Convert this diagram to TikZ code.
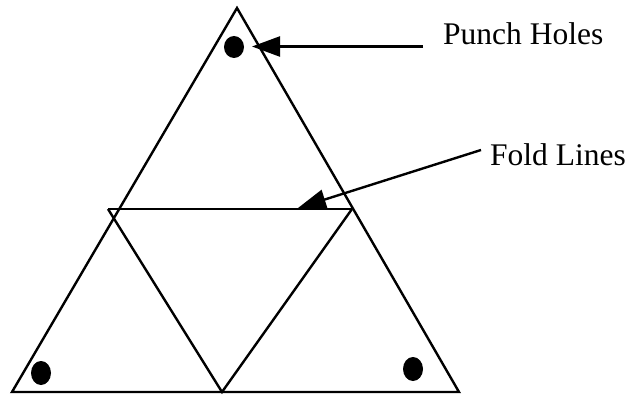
\documentclass[tikz,border=0pt]{standalone}
\usepackage{fontspec}
\setmainfont{Liberation Serif}
\usetikzlibrary{arrows.meta}
\begin{document}
\begin{tikzpicture}[x=1pt,y=-1pt,
  edge/.style={line width=2.4pt, line join=miter},
  pointer/.style={line width=2.4pt, -{Triangle[length=28pt,width=20pt]}},
  lbl/.style={font=\fontsize{31.5}{36}\selectfont, inner sep=0pt, anchor=base west}]
\useasboundingbox (0,0) rectangle (632,396);
% big triangle
\coordinate (A) at (237,8);
\coordinate (BL) at (12,392);
\coordinate (BR) at (459,392);
\coordinate (M) at (222,392);
\coordinate (FL) at (108,209);
\coordinate (FR) at (352,209);
\draw[edge] (A) -- (BL) -- (BR) -- cycle;
% fold lines
\draw[edge] (FL) -- (FR);
\draw[edge] (FL) -- (M) -- (FR);
% punch holes
\fill (234,47) ellipse [x radius=10pt, y radius=11pt];
\fill (41,373) ellipse [x radius=10pt, y radius=12pt];
\fill (413,369) ellipse [x radius=10pt, y radius=12pt];
% labels
\node[lbl] (ph) at (443,45) {Punch Holes};
\node[lbl] (fl) at (490,165) {Fold Lines};
\coordinate (phs) at (423,46.5);
\coordinate (pht) at (252,46.5);
\coordinate (fls) at (481,150);
\coordinate (flt) at (298,208);
\draw[pointer] (phs) -- (pht);
\draw[pointer] (fls) -- (flt);
\end{tikzpicture}
\end{document}
